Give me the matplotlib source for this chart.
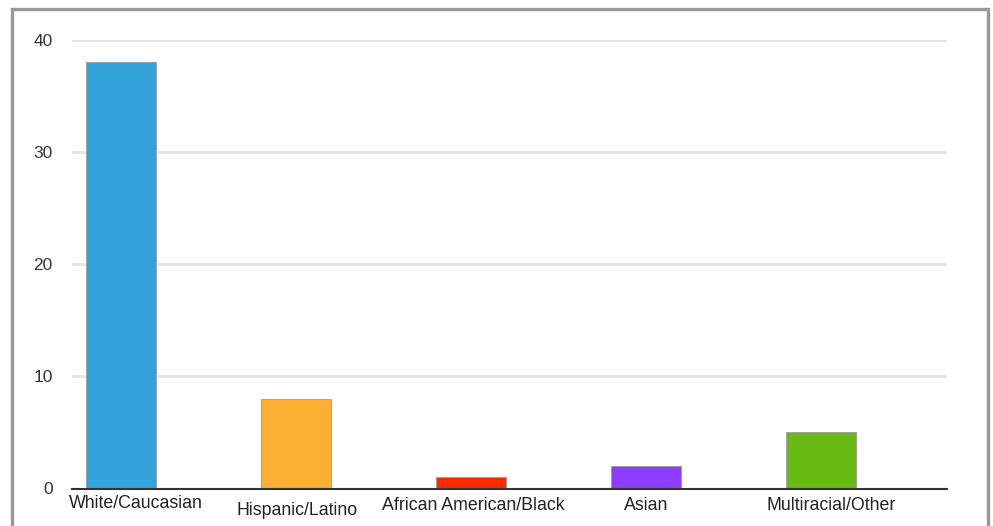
import matplotlib
matplotlib.use("Agg")
import matplotlib.pyplot as plt
from matplotlib.patches import Rectangle

categories = ["White/Caucasian", "Hispanic/Latino", "African American/Black", "Asian", "Multiracial/Other"]
values = [38, 8, 1, 2, 5]
colors = ["#33a3dc", "#fbb034", "#ff2a00", "#8b3cff", "#6aba15"]
yticks = [0, 10, 20, 30, 40]

# label placement tweaks (points), layout only
label_dx = [11, 1, 2, 0, 7.5]
label_dy = [-11, -16, -12.5, -12.5, -12.5]

plt.rcParams['font.family'] = ['Liberation Sans', 'DejaVu Sans']

fig = plt.figure(figsize=(9.93, 5.26), dpi=100)
fig.patch.set_facecolor("white")
ax = fig.add_axes([72/993, 1-488.5/526, 875/993, (488.5-40)/526])

x = list(range(len(categories)))
ax.bar(x, values, width=0.4, color=colors, edgecolor="#9a9a9a", linewidth=0.6, zorder=3)
ax.set_xlim(-0.28, 4.72)
ax.set_ylim(0, 40)
ax.set_yticks(yticks)
ax.set_yticklabels([str(t) for t in yticks], fontsize=12.5, color="#333333")
ax.tick_params(axis="y", length=0, pad=14)
ax.set_xticks([])
for t in yticks[1:]:
    ax.axhline(t, color="#e6e6e6", linewidth=2, zorder=1)
ax.axhline(0, color="#333333", linewidth=1.5, zorder=4, clip_on=False)
for s in ax.spines.values():
    s.set_visible(False)

for i, (c, dx, dy) in enumerate(zip(categories, label_dx, label_dy)):
    ax.annotate(c, xy=(i, 0), xytext=(dx, dy), textcoords="offset points",
                ha="center", va="center", fontsize=12.8, color="#222222",
                annotation_clip=False)

# outer gray frame (bottom edge off-canvas)
fig.patches.append(Rectangle((11.5/993, -0.05), (987.5-11.5)/993, 1.05 - 9.5/526,
                             transform=fig.transFigure, fill=False,
                             edgecolor="#999999", linewidth=2.4, zorder=0))

fig.savefig("out.png", dpi=100, facecolor="white")
